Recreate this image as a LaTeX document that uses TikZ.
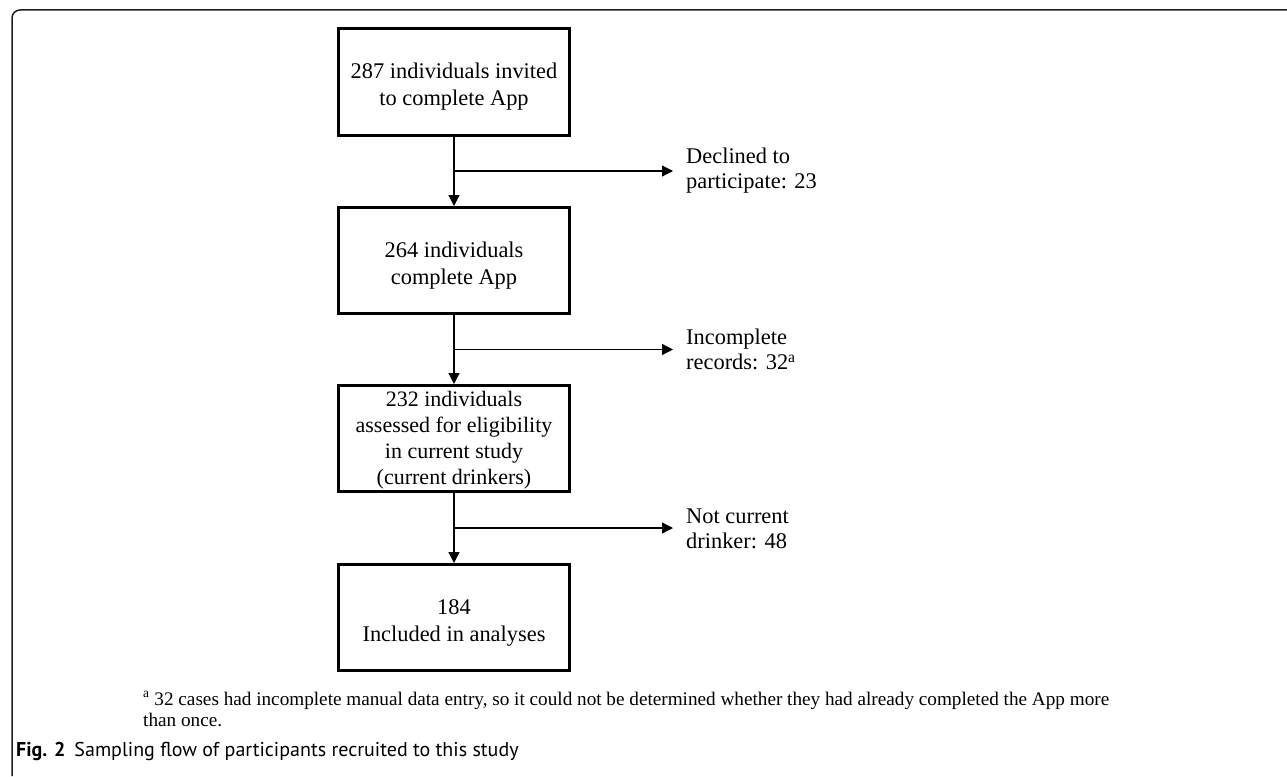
\documentclass[tikz,border=0pt]{standalone}
\usepackage{fontspec}
\setmainfont{Liberation Serif}
\newfontfamily\capfont{PT Sans}
\usetikzlibrary{arrows.meta}
\newcommand{\boxlines}[2][-10pt]{\raisebox{#1}[0pt][0pt]{\begin{tabular}{@{}c@{}}#2\end{tabular}}}
\begin{document}
\begin{tikzpicture}[x=1pt,y=-1pt,
  flowbox/.style={draw, line width=3pt, minimum width=231pt, minimum height=106pt,
    align=center, font=\fontsize{22.4}{26.7}\selectfont, inner sep=0pt},
  sidelabel/.style={anchor=west, align=left, font=\fontsize{22.4}{25}\selectfont, inner sep=0pt},
  conn/.style={line width=1.2pt, -{Triangle[length=11pt,width=11pt]}},
  branch/.style={line width=1.2pt, -{Triangle[length=11pt,width=11pt]}, shorten >=13pt},
]
\useasboundingbox (0,0) rectangle (1287,776);
\draw[line width=1.5pt, rounded corners=8pt, color=black!88] (12,776) -- (12,10) -- (1287,10);

\node[flowbox] (b1) at (454,82) {\boxlines{287 individuals invited\\to complete App}};
\node[flowbox] (b2) at (454,260.5) {\boxlines{264 individuals\\complete App}};
\node[flowbox, font=\fontsize{22}{26.2}\selectfont] (b3) at (454,438.5) {\boxlines[-7pt]{232 individuals\\assessed for eligibility\\in current study\\(current drinkers)}};
\node[flowbox] (b4) at (454,617.5) {\boxlines{184\\Included in analyses}};

\node[sidelabel] (d1) at (686,171) {Declined to\\participate: 23};
\node[sidelabel] (d2) at (686,349.5) {Incomplete\\records: 32\textsuperscript{a}};
\node[sidelabel] (d3) at (686,529) {Not current\\drinker: 48};

\coordinate (j1) at (454,171);
\coordinate (j2) at (454,349.5);
\coordinate (j3) at (454,528);

\draw[conn] (b1) -- (b2);
\draw[conn] (b2) -- (b3);
\draw[conn] (b3) -- (b4);
\draw[branch] (j1) -- (d1.west);
\draw[branch] (j2) -- (d2.west |- j2);
\draw[branch] (j3) -- (d3.west |- j3);

\node[anchor=north west, align=left, inner sep=0pt, font=\fontsize{19.2}{21}\selectfont] (fn) at (143,691)
  {\textsuperscript{a} 32 cases had incomplete manual data entry, so it could not be determined whether they had already completed the App more\\than once.};

\node[anchor=base west, inner sep=0pt, font=\capfont\fontsize{20}{24}\selectfont] (cap) at (16,756.5)
  {\textbf{Fig. 2}\hspace{0.45em}Sampling flow of participants recruited to this study};
\end{tikzpicture}
\end{document}
